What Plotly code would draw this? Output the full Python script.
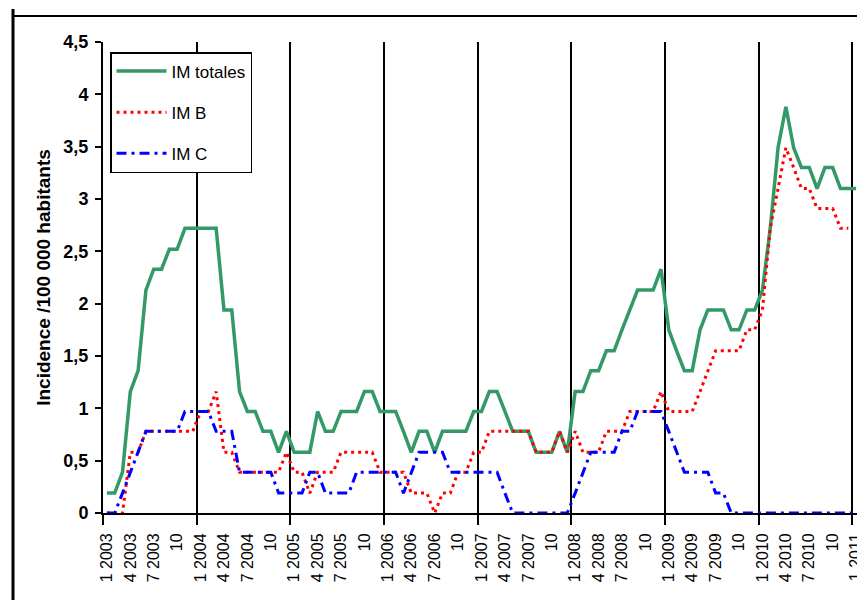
import plotly.graph_objects as go

# ---- data (monthly, Jan 2003 .. Jan 2011), incidence /100 000 ----
tick_labels = ["1 2003", "4 2003", "7 2003", "10",
               "1 2004", "4 2004", "7 2004", "10",
               "1 2005", "4 2005", "7 2005", "10",
               "1 2006", "4 2006", "7 2006", "10",
               "1 2007", "4 2007", "7 2007", "10",
               "1 2008", "4 2008", "7 2008", "10",
               "1 2009", "4 2009", "7 2009", "10",
               "1 2010", "4 2010", "7 2010", "10",
               "1 2011"]

im_totales = [0.19, 0.19, 0.39, 1.16, 1.36, 2.13, 2.33, 2.33, 2.52, 2.52,
              2.72, 2.72, 2.72, 2.72, 2.72, 1.94, 1.94, 1.16, 0.97, 0.97,
              0.78, 0.78, 0.58, 0.78, 0.58, 0.58, 0.58, 0.97, 0.78, 0.78,
              0.97, 0.97, 0.97, 1.16, 1.16, 0.97, 0.97, 0.97, 0.78, 0.58,
              0.78, 0.78, 0.58, 0.78, 0.78, 0.78, 0.78, 0.97, 0.97, 1.16,
              1.16, 0.97, 0.78, 0.78, 0.78, 0.58, 0.58, 0.58, 0.78, 0.58,
              1.16, 1.16, 1.36, 1.36, 1.55, 1.55, 1.75, 1.94, 2.13, 2.13,
              2.13, 2.33, 1.75, 1.55, 1.36, 1.36, 1.75, 1.94, 1.94, 1.94,
              1.75, 1.75, 1.94, 1.94, 2.13, 2.72, 3.49, 3.88, 3.49, 3.30,
              3.30, 3.10, 3.30, 3.30, 3.10, 3.10, 3.10]

im_b = [0, 0, 0, 0.58, 0.58, 0.78, 0.78, 0.78, 0.78, 0.78,
        0.78, 0.78, 0.97, 0.97, 1.16, 0.58, 0.58, 0.39, 0.39, 0.39,
        0.39, 0.39, 0.39, 0.58, 0.39, 0.39, 0.19, 0.39, 0.39, 0.39,
        0.58, 0.58, 0.58, 0.58, 0.58, 0.39, 0.39, 0.39, 0.39, 0.19,
        0.19, 0.19, 0, 0.19, 0.19, 0.39, 0.39, 0.58, 0.58, 0.78,
        0.78, 0.78, 0.78, 0.78, 0.78, 0.58, 0.58, 0.58, 0.78, 0.58,
        0.78, 0.58, 0.58, 0.58, 0.78, 0.78, 0.78, 0.97, 0.97, 0.97,
        0.97, 1.16, 0.97, 0.97, 0.97, 0.97, 1.16, 1.36, 1.55, 1.55,
        1.55, 1.55, 1.75, 1.75, 1.94, 2.72, 3.10, 3.49, 3.30, 3.10,
        3.10, 2.91, 2.91, 2.91, 2.72, 2.72, None]

im_c = [0, 0, 0.19, 0.39, 0.58, 0.78, 0.78, 0.78, 0.78, 0.78,
        0.97, 0.97, 0.97, 0.97, 0.78, 0.78, 0.78, 0.39, 0.39, 0.39,
        0.39, 0.39, 0.19, 0.19, 0.19, 0.19, 0.39, 0.39, 0.19, 0.19,
        0.19, 0.19, 0.39, 0.39, 0.39, 0.39, 0.39, 0.39, 0.19, 0.39,
        0.58, 0.58, 0.58, 0.58, 0.39, 0.39, 0.39, 0.39, 0.39, 0.39,
        0.39, 0.19, 0, 0, 0, 0, 0, 0, 0, 0,
        0.19, 0.39, 0.58, 0.58, 0.58, 0.58, 0.78, 0.78, 0.97, 0.97,
        0.97, 0.97, 0.78, 0.58, 0.39, 0.39, 0.39, 0.39, 0.19, 0.19,
        0, 0, 0, 0, 0, 0, 0, 0, 0, 0,
        0, 0, 0, 0, 0, 0, 0]

y_ticks = [0, 0.5, 1, 1.5, 2, 2.5, 3, 3.5, 4, 4.5]
y_ticktext = ["0", "0,5", "1", "1,5", "2", "2,5", "3", "3,5", "4", "4,5"]

# ---- layout geometry ----
# the page body adds an 8px offset, so the figure is 8px smaller and all
# window pixel positions below are shifted by OFF
OFF = 8
W, H = 865 - OFF, 600 - OFF
ML, MR, MT, MB = 103 - OFF, 5, 42 - OFF, 87
PW, PH = W - ML - MR, H - MT - MB


def px_x(p):
    return (p - OFF - ML) / PW


def px_y(p):
    return (H - MB - (p - OFF)) / PH


FONT = "Liberation Sans, Arial, sans-serif"
months = list(range(len(im_totales)))

fig = go.Figure()
fig.add_trace(go.Scatter(x=months, y=im_totales, mode="lines", name="IM totales",
                         legendgroup="a",
                         line=dict(color="#339966", width=3.5)))
fig.add_trace(go.Scatter(x=months, y=im_b, mode="lines", name="IM B",
                         legendgroup="b",
                         line=dict(color="#FF0000", width=3, dash="3px,4px")))
fig.add_trace(go.Scatter(x=months, y=im_c, mode="lines", name="IM C",
                         legendgroup="c",
                         line=dict(color="#0000FF", width=3, dash="10px,5px,3px,5px")))

fig.update_xaxes(
    range=[-0.5, len(months) - 0.5], automargin=False,
    tickmode="array", tickvals=months[::3], ticktext=tick_labels,
    tickangle=-90, ticks="", showgrid=False, zeroline=False,
    ticklabeloverflow="allow", ticklabelstandoff=12,
    showline=True, linecolor="black", linewidth=2,
    tickfont=dict(family=FONT, size=16, color="black"),
    minor=dict(tick0=-0.5, dtick=12, showgrid=True, gridcolor="black",
               gridwidth=1.5, ticks="outside", ticklen=10, tickcolor="black",
               tickwidth=1.5),
)
fig.update_yaxes(
    range=[0, 4.5], automargin=False,
    tickmode="array", tickvals=y_ticks, ticktext=y_ticktext,
    ticks="outside", ticklen=6, tickcolor="black", tickwidth=1.5,
    ticklabelstandoff=3,
    showgrid=False, zeroline=False, showline=True, linecolor="black", linewidth=2,
    tickfont=dict(family=FONT, size=18, color="black", weight="bold"),
    title=dict(text="Incidence /100 000 habitants",
               font=dict(family=FONT, size=19, color="black", weight="bold"),
               standoff=8),
)

fig.update_layout(
    width=W, height=H,
    margin=dict(l=ML, r=MR, t=MT, b=MB, autoexpand=False),
    plot_bgcolor="white", paper_bgcolor="white",
    font=dict(family=FONT, color="black"),
    legend=dict(x=px_x(110), y=px_y(52), xanchor="left", yanchor="top",
                bgcolor="white", bordercolor="black", borderwidth=1.5,
                font=dict(family=FONT, size=17, color="black"),
                traceorder="grouped", tracegroupgap=16, itemwidth=50),
    shapes=[
        # outer chart frame
        dict(type="line", xref="paper", yref="paper",
             x0=px_x(13), x1=px_x(13), y0=px_y(9), y1=px_y(610),
             line=dict(color="black", width=3)),
        dict(type="line", xref="paper", yref="paper",
             x0=px_x(12), x1=px_x(865), y0=px_y(16), y1=px_y(16),
             line=dict(color="black", width=2)),
        dict(type="line", xref="paper", yref="paper",
             x0=px_x(859), x1=px_x(859), y0=px_y(16), y1=px_y(610),
             line=dict(color="#999999", width=1.5)),
    ],
)

fig.write_html("out.html")
